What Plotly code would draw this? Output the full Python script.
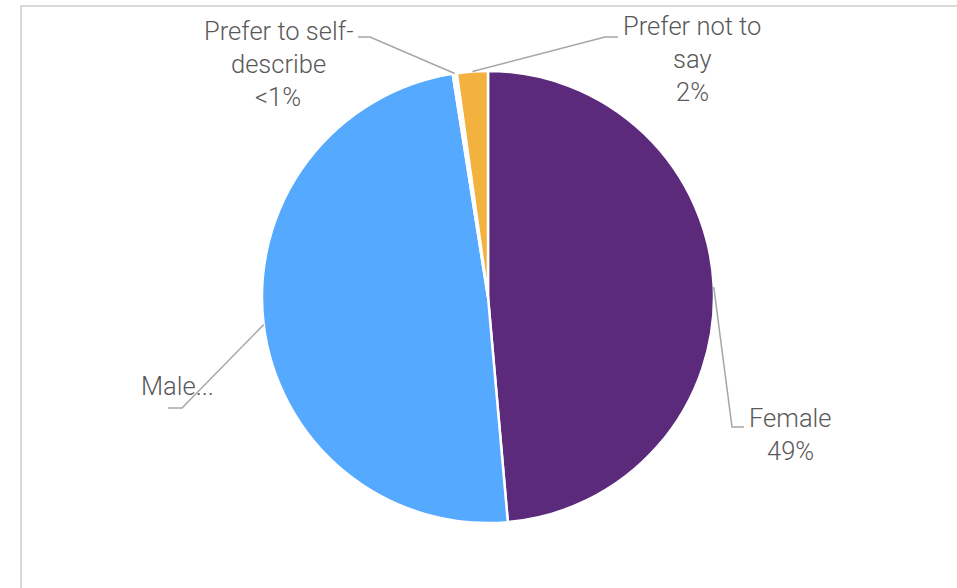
import math
import plotly.graph_objects as go

# Survey responses by gender (share of respondents, %)
categories = ["Female", "Male", "Prefer to self-describe", "Prefer not to say"]
shares = [48.6, 48.9, 0.3, 2.2]
colors = ["#5C2A7B", "#55A9FF", "#FFFFFF", "#F3B13D"]

# Label text lines shown beside each slice (value line derived from the data)
label_lines = {
    "Female": ["Female"],
    "Male": ["Male..."],
    "Prefer to self-describe": ["Prefer to self-", "describe"],
    "Prefer not to say": ["Prefer not to", "say"],
}
show_value = {"Female": True, "Male": False,
              "Prefer to self-describe": True, "Prefer not to say": True}

W, H = 957, 588
CX, CY, R = 488, 297, 226  # pie centre and radius in pixels

# label block placement (pixels): centre x, first-line y, elbow and end of leader line
label_layout = {
    "Female": dict(x=790, y=418, elbow=(732, 427), end=(744, 427)),
    "Male": dict(x=177, y=386, elbow=(182, 408), end=(168, 408)),
    "Prefer to self-describe": dict(x=278, y=31, elbow=(370, 37), end=(358, 37)),
    "Prefer not to say": dict(x=692, y=26, elbow=(605, 37), end=(618, 37)),
}
LINE_STEP = 33
FONT = dict(family="Roboto, Lato, sans-serif", size=25.5, color="#595959", weight=300)


def px(x):
    return x / W


def py(y):
    return 1 - y / H


def pct_text(v):
    return "<1%" if v < 1 else f"{round(v)}%"


fig = go.Figure(go.Pie(
    labels=categories,
    values=shares,
    sort=False,
    direction="clockwise",
    rotation=0,
    marker=dict(colors=colors, line=dict(color="#FFFFFF", width=2.5)),
    textinfo="none",
    hoverinfo="label+percent",
    showlegend=False,
    domain=dict(x=[px(CX - R), px(CX + R)], y=[py(CY + R), py(CY - R)]),
))

total = sum(shares)
shapes = []
annotations = []
cum = 0.0
for cat, v in zip(categories, shares):
    mid = (cum + v / 2) / total * 2 * math.pi
    cum += v
    sx = CX + R * math.sin(mid)
    sy = CY - R * math.cos(mid)
    lay = label_layout[cat]
    ex, ey = lay["elbow"]
    tx, ty = lay["end"]
    shapes.append(dict(
        type="path", xref="paper", yref="paper",
        path=f"M {px(sx)},{py(sy)} L {px(ex)},{py(ey)} L {px(tx)},{py(ty)}",
        line=dict(color="#A6A6A6", width=1.5),
    ))
    lines = list(label_lines[cat])
    if show_value[cat]:
        lines.append(pct_text(v))
    for i, t in enumerate(lines):
        annotations.append(dict(
            text=t, x=px(lay["x"]), y=py(lay["y"] + i * LINE_STEP),
            xref="paper", yref="paper", xanchor="center", yanchor="middle",
            showarrow=False, font=FONT,
        ))

# chart-area frame
shapes.append(dict(
    type="rect", xref="paper", yref="paper",
    x0=px(21), y0=py(H + 20), x1=px(W + 20), y1=py(6),
    line=dict(color="#D9D9D9", width=2), fillcolor="rgba(0,0,0,0)", layer="below",
))

fig.update_layout(
    width=W, height=H, autosize=False,
    margin=dict(l=0, r=0, t=0, b=0),
    paper_bgcolor="#FFFFFF", plot_bgcolor="#FFFFFF",
    shapes=shapes, annotations=annotations,
)

fig.write_html("out.html")
